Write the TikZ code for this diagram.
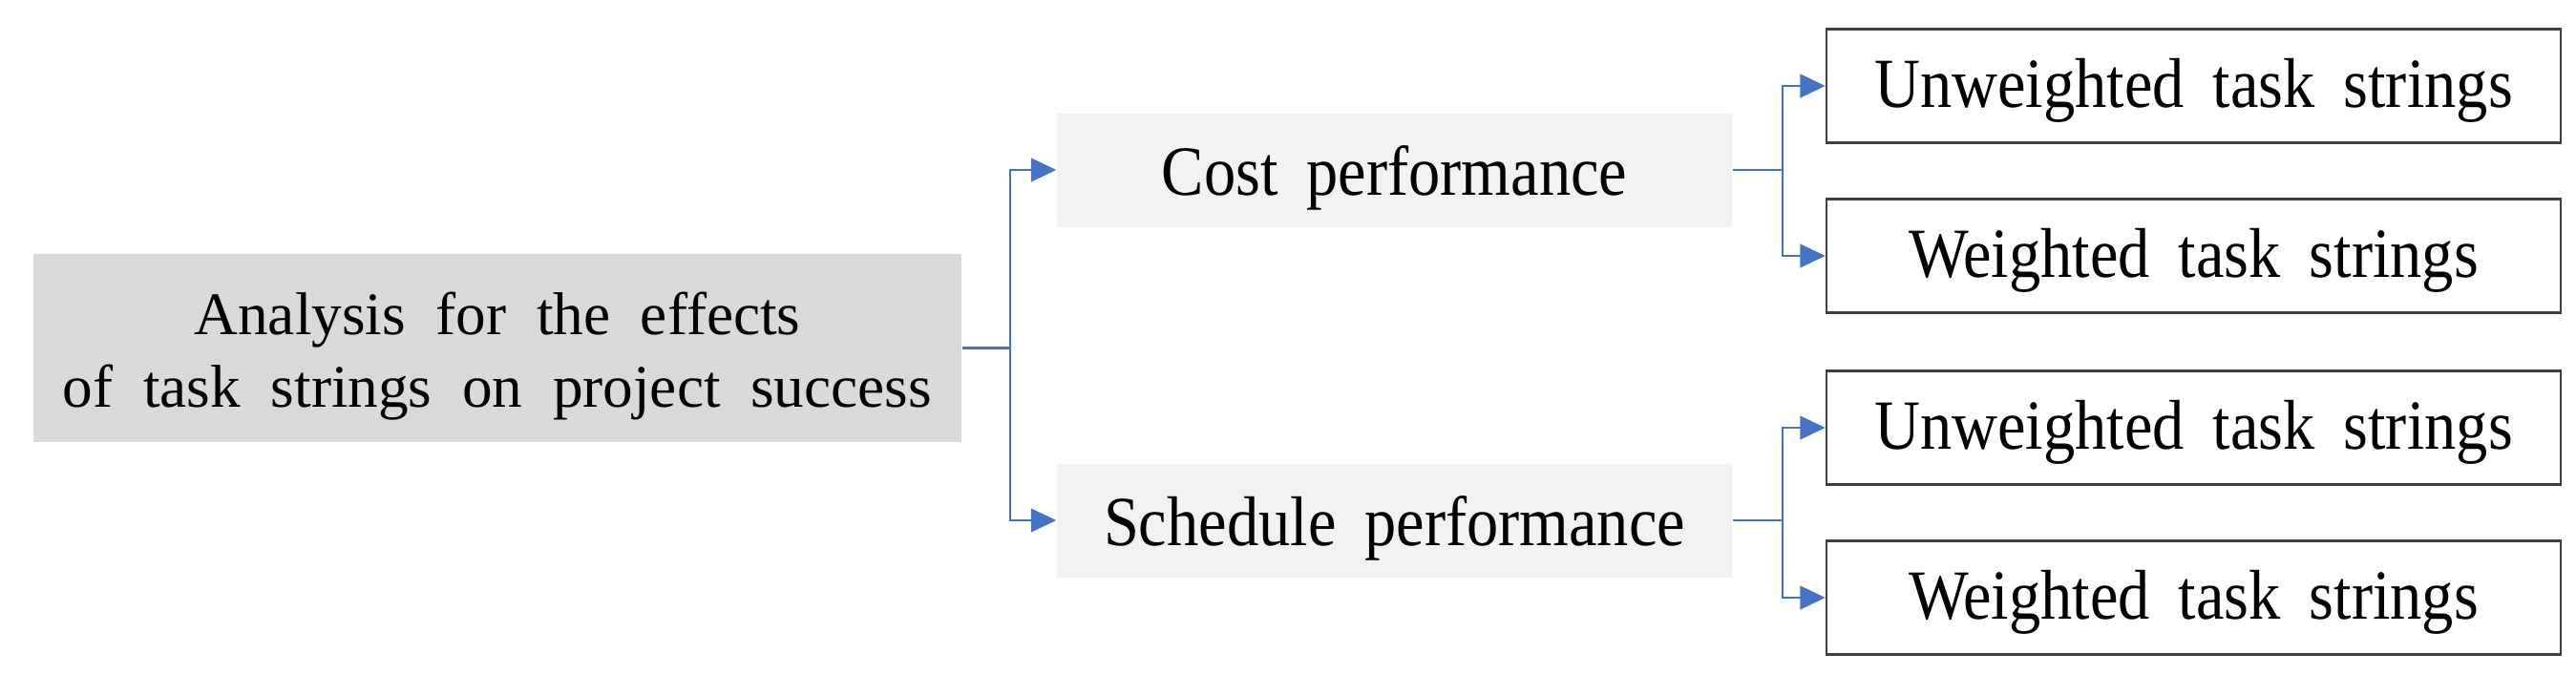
\documentclass[tikz,border=0pt]{standalone}
\usepackage{fontspec}
\setmainfont{Liberation Serif}[WordSpace=2]
\newfontfamily\tallfont{Liberation Serif}[FakeStretch=0.9, WordSpace=1.8]
\usetikzlibrary{arrows.meta}

\definecolor{linkblue}{RGB}{68,114,196}
\definecolor{rootgray}{RGB}{217,217,217}
\definecolor{midgray}{RGB}{242,242,242}
\definecolor{edgegray}{RGB}{64,64,64}

\begin{document}
\begin{tikzpicture}[
  rootbox/.style={fill=rootgray, minimum width=9.72cm, minimum height=1.97cm, inner sep=0pt},
  roottext/.style={align=center, inner sep=0pt, font=\fontsize{18}{21.6}\selectfont},
  midbox/.style={fill=midgray, minimum width=7.07cm, minimum height=1.19cm,
    inner sep=0pt, text height=0.52cm, text depth=0cm,
    font=\tallfont\fontsize{21}{25}\selectfont},
  leafbox/.style={draw=edgegray, line width=0.7pt, fill=white, minimum width=7.69cm,
    minimum height=1.19cm, inner sep=0pt, text height=0.45cm, text depth=0cm,
    font=\tallfont\fontsize{21}{25}\selectfont},
  link/.style={draw=linkblue, line width=0.6pt},
  arr/.style={link, -{Triangle[length=7.5pt,width=7pt]}}
]
  \useasboundingbox (0,0) rectangle (26.98,-7.07);

  \node[rootbox] (root) at (5.21,-3.645) {};
  \node[roottext] (rootlabel) at ([yshift=-0.09cm]root.center)
    {Analysis for the effects\\of task strings on project success};

  \node[midbox] (cost) at (14.605,-1.78) {Cost performance};
  \node[midbox] (sched) at (14.605,-5.45) {Schedule performance};

  \node[leafbox] (cu) at (22.975,-0.90) {Unweighted task strings};
  \node[leafbox] (cw) at (22.975,-2.68) {Weighted task strings};
  \node[leafbox] (su) at (22.975,-4.48) {Unweighted task strings};
  \node[leafbox] (sw) at (22.975,-6.26) {Weighted task strings};

  % root -> performance measures
  \draw[link] (root.east) -- ++(0.5,0) coordinate (j0);
  \foreach \t in {cost,sched} \draw[arr] (j0) |- (\t.west);

  % measures -> task string variants
  \draw[link] (cost.east) -- ++(0.52,0) coordinate (j1);
  \foreach \t in {cu,cw} \draw[arr] (j1) |- (\t.west);
  \draw[link] (sched.east) -- ++(0.52,0) coordinate (j2);
  \foreach \t in {su,sw} \draw[arr] (j2) |- (\t.west);
\end{tikzpicture}
\end{document}
